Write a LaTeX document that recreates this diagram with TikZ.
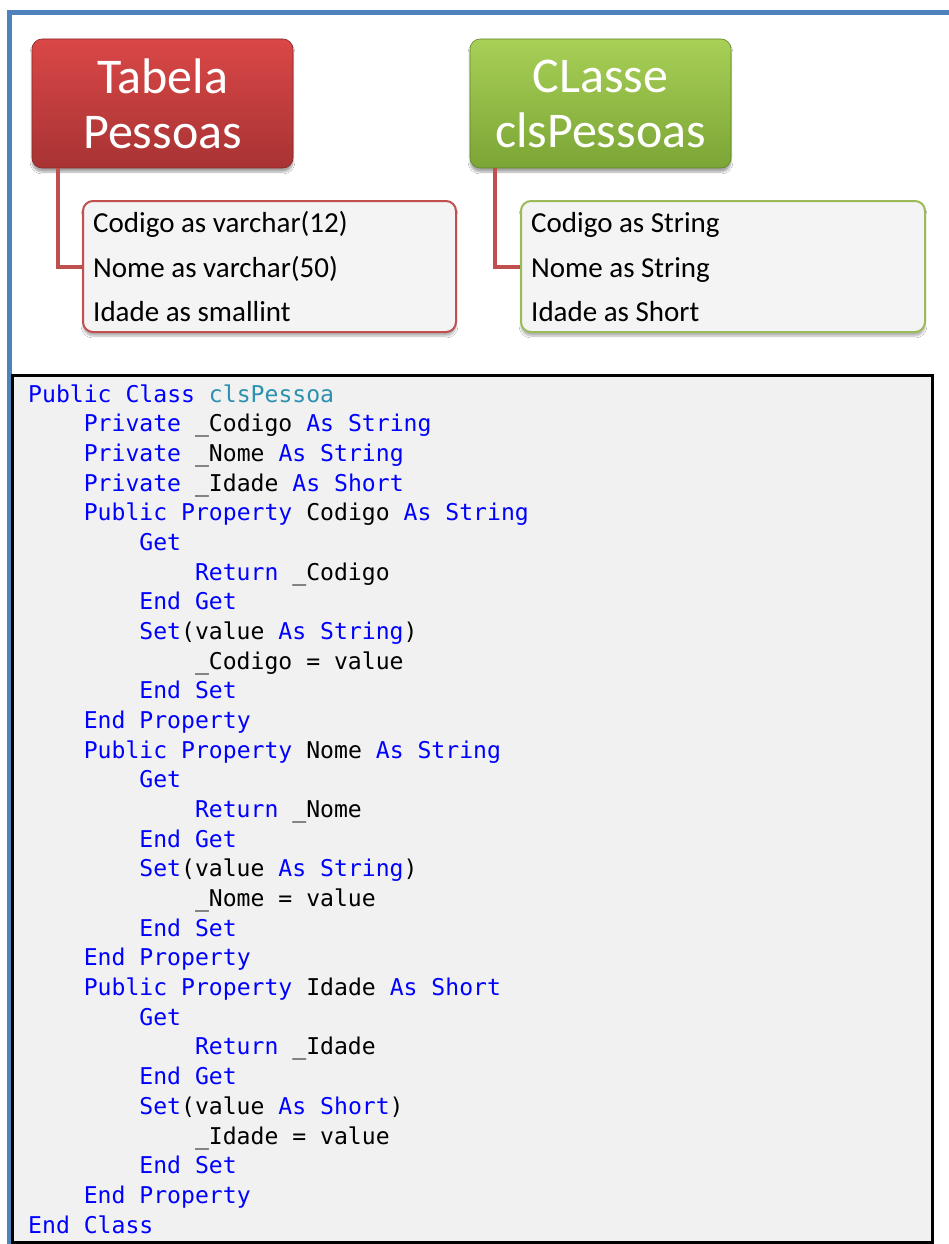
\documentclass[tikz,border=0pt]{standalone}
\usepackage{fontspec}
\setmainfont{Carlito}
\newfontfamily\codefont{DejaVu Sans Mono}
\usetikzlibrary{shadows.blur}

\definecolor{framebl}{HTML}{4F81BD}
\definecolor{redtop}{HTML}{DA4747}
\definecolor{redbot}{HTML}{A83333}
\definecolor{redline}{HTML}{C0504D}
\definecolor{greentop}{HTML}{A8D057}
\definecolor{greenbot}{HTML}{7BA535}
\definecolor{greenline}{HTML}{9BBB59}
\definecolor{subfill}{HTML}{F4F4F4}
\definecolor{codefill}{HTML}{F1F1F1}
\definecolor{kwblue}{HTML}{0000FF}
\definecolor{typeteal}{HTML}{2B91AF}

\newcommand\kw[1]{\textcolor{kwblue}{#1}}
\newcommand\ty[1]{\textcolor{typeteal}{#1}}
% one line of code: line number, indent level (4 characters each), text
\newcommand\codeln[3]{\node[codeline] (l#1) at ({28+#2*55.6},{402+#1*29.68}) {#3};}

\tikzset{
  titlebox/.style={rectangle, rounded corners=10pt, minimum width=261pt,
    minimum height=129pt, inner sep=0pt, align=center, text=white,
    font=\fontsize{50}{55}\selectfont,
    blur shadow={shadow xshift=0pt, shadow yshift=-4pt, shadow blur steps=6, shadow opacity=35}},
  redtitle/.style={titlebox, top color=redtop, bottom color=redbot, draw=redbot!80!black, line width=0.6pt},
  greentitle/.style={titlebox, top color=greentop, bottom color=greenbot, draw=greenbot!80!black, line width=0.6pt},
  subbox/.style={rectangle, rounded corners=10pt, minimum height=131pt, inner sep=0pt,
    fill=subfill, line width=2pt,
    blur shadow={shadow xshift=0pt, shadow yshift=-4pt, shadow blur steps=6, shadow opacity=30}},
  subtext/.style={anchor=base west, inner sep=0pt, font=\fontsize{29}{35}\selectfont},
  conn/.style={draw=redline, line width=4pt},
  codeline/.style={anchor=base west, inner sep=0pt, font=\codefont\fontsize{23.1}{29.7}\selectfont},
  codebox/.style={rectangle, draw=black, line width=3pt, fill=codefill,
    minimum width=920pt, minimum height=867pt, inner sep=0pt},
}

\begin{document}
\begin{tikzpicture}[x=1pt,y=-1pt]
\useasboundingbox (0,0) rectangle (948,1244);
\fill[white] (0,0) rectangle (948,1244);

% outer frame (top and left edges)
\coordinate (fbl) at (9,1246);
\coordinate (ftl) at (9,12.5);
\coordinate (ftr) at (950,12.5);
\draw[framebl, line width=5pt] (fbl) -- (ftl) -- (ftr);

% title boxes
\node[redtitle] (red) at (162.5,103.5) {Tabela\\Pessoas};
\node[greentitle] (green) at (600.5,103.5) {CLasse\\clsPessoas};

% connectors
\draw[conn] ([xshift=26pt]red.south west) |- (269.5,266.5) coordinate (redjoin);
\draw[conn] ([xshift=25pt]green.south west) |- (723,266.5) coordinate (greenjoin);

% member boxes
\node[subbox, draw=redline, minimum width=373pt] (redsub) at (269.5,266.5) {};
\node[subbox, draw=greenline, minimum width=404pt] (greensub) at (723,266.5) {};

\node[subtext] (r1) at (93,232) {Codigo as varchar(12)};
\node[subtext] (r2) at (93,277) {Nome as varchar(50)};
\node[subtext] (r3) at (93,321) {Idade as smallint};
\node[subtext] (g1) at (531,232) {Codigo as String};
\node[subtext] (g2) at (531,277) {Nome as String};
\node[subtext] (g3) at (531,321) {Idade as Short};

% code listing
\node[codebox] (code) at (472,808.5) {};
\codeln{0}{0}{\kw{Public} \kw{Class} \ty{clsPessoa}}
\codeln{1}{1}{\kw{Private} \_Codigo \kw{As} \kw{String}}
\codeln{2}{1}{\kw{Private} \_Nome \kw{As} \kw{String}}
\codeln{3}{1}{\kw{Private} \_Idade \kw{As} \kw{Short}}
\codeln{4}{1}{\kw{Public} \kw{Property} Codigo \kw{As} \kw{String}}
\codeln{5}{2}{\kw{Get}}
\codeln{6}{3}{\kw{Return} \_Codigo}
\codeln{7}{2}{\kw{End} \kw{Get}}
\codeln{8}{2}{\kw{Set}(value \kw{As} \kw{String})}
\codeln{9}{3}{\_Codigo = value}
\codeln{10}{2}{\kw{End} \kw{Set}}
\codeln{11}{1}{\kw{End} \kw{Property}}
\codeln{12}{1}{\kw{Public} \kw{Property} Nome \kw{As} \kw{String}}
\codeln{13}{2}{\kw{Get}}
\codeln{14}{3}{\kw{Return} \_Nome}
\codeln{15}{2}{\kw{End} \kw{Get}}
\codeln{16}{2}{\kw{Set}(value \kw{As} \kw{String})}
\codeln{17}{3}{\_Nome = value}
\codeln{18}{2}{\kw{End} \kw{Set}}
\codeln{19}{1}{\kw{End} \kw{Property}}
\codeln{20}{1}{\kw{Public} \kw{Property} Idade \kw{As} \kw{Short}}
\codeln{21}{2}{\kw{Get}}
\codeln{22}{3}{\kw{Return} \_Idade}
\codeln{23}{2}{\kw{End} \kw{Get}}
\codeln{24}{2}{\kw{Set}(value \kw{As} \kw{Short})}
\codeln{25}{3}{\_Idade = value}
\codeln{26}{2}{\kw{End} \kw{Set}}
\codeln{27}{1}{\kw{End} \kw{Property}}
\codeln{28}{0}{\kw{End} \kw{Class}}
\end{tikzpicture}
\end{document}
